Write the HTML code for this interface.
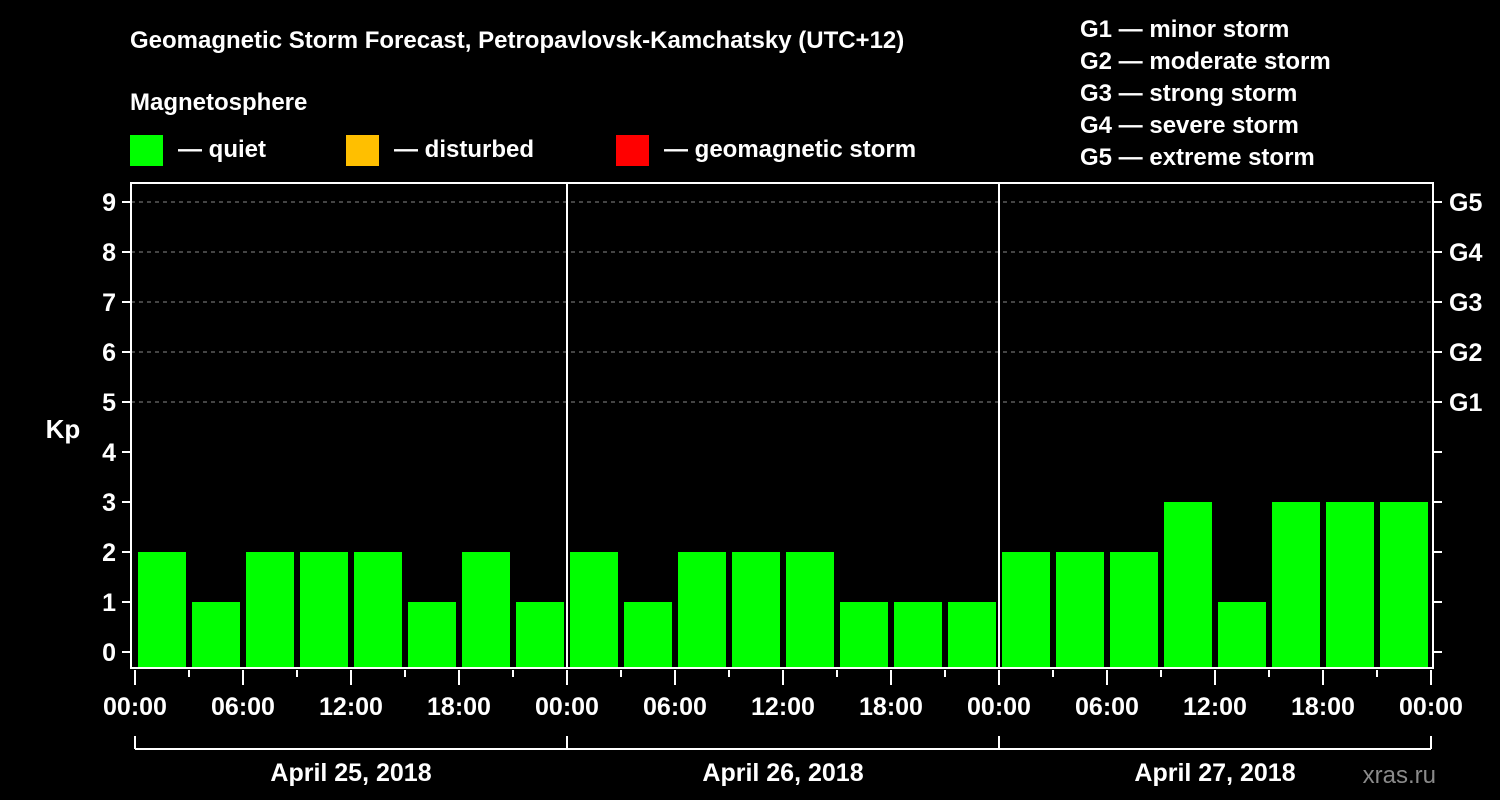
<!DOCTYPE html>
<html><head><meta charset="utf-8"><style>
body{margin:0;background:#000;width:1500px;height:800px;overflow:hidden}
svg{display:block}
text{font-family:"Liberation Sans",Arial,sans-serif;font-weight:bold;fill:#fff}
</style></head><body>
<svg id="c" width="1500" height="800">
<text x="130" y="48" font-size="24">Geomagnetic Storm Forecast, Petropavlovsk-Kamchatsky (UTC+12)</text>
<text x="130" y="110" font-size="24">Magnetosphere</text>
<g><rect x="130" y="135" width="33" height="31" fill="#00ff00"/><text x="178" y="157" font-size="24">— quiet</text></g>
<g><rect x="346" y="135" width="33" height="31" fill="#ffbf00"/><text x="394" y="157" font-size="24">— disturbed</text></g>
<g><rect x="616" y="135" width="33" height="31" fill="#ff0000"/><text x="664" y="157" font-size="24">— geomagnetic storm</text></g>
<g font-size="24">
<text x="1080" y="37">G1 — minor storm</text>
<text x="1080" y="69">G2 — moderate storm</text>
<text x="1080" y="101">G3 — strong storm</text>
<text x="1080" y="133">G4 — severe storm</text>
<text x="1080" y="165">G5 — extreme storm</text>
</g>
<text x="63" y="438" font-size="26" text-anchor="middle">Kp</text>
<text x="1436" y="783" font-size="24" text-anchor="end" fill="#888" style="fill:#8a8a8a;font-weight:normal">xras.ru</text>
<g id="g"></g>
</svg>
<script>
const days=["April 25, 2018","April 26, 2018","April 27, 2018"];
const kpValues=[2,1,2,2,2,1,2,1, 2,1,2,2,2,1,1,1, 2,2,2,3,1,3,3,3];
const yTicks=[0,1,2,3,4,5,6,7,8,9];
const gLabels=["G1","G2","G3","G4","G5"];
const hourLabels=["00:00","06:00","12:00","18:00"];
const NS="http://www.w3.org/2000/svg",g=document.getElementById("g");
const L=131,R=1433,T=183,B=668,X0=135,DAY=432;
const y=v=>652-v*50;
const x=slot=>X0+slot*DAY/8;
function el(t,a,p){const e=document.createElementNS(NS,t);for(const k in a)e.setAttribute(k,a[k]);(p||g).appendChild(e);return e;}
// grid
for(let v=5;v<=9;v++){const e=el("line",{x1:L,x2:R,y1:y(v),y2:y(v),stroke:"#888","stroke-dasharray":"4,4","stroke-width":1});

}
// bars
kpValues.forEach((v,i)=>{const c=v>=5?"#ff0000":v>=4?"#ffbf00":"#00ff00";
const r=el("rect",{x:x(i)+3,y:y(v),width:DAY/8-6,height:B-y(v),fill:c});

});
// day separators
for(let d=1;d<days.length;d++){const e=el("line",{x1:x(d*8),x2:x(d*8),y1:T,y2:B,stroke:"#fff","stroke-width":2});

}
// frame
const f=el("rect",{x:L,y:T,width:R-L,height:B-T,fill:"none",stroke:"#fff","stroke-width":2});


// y ticks
yTicks.forEach(v=>{el("line",{x1:122,x2:L,y1:y(v),y2:y(v),stroke:"#fff","stroke-width":2});
el("line",{x1:R,x2:1442,y1:y(v),y2:y(v),stroke:"#fff","stroke-width":2});
const t=el("text",{x:116,y:y(v)+9,"font-size":25,"text-anchor":"end"});t.textContent=v;

});
gLabels.forEach((s,i)=>{const t=el("text",{x:1449,y:y(i+5)+9,"font-size":25});t.textContent=s;

});
// x ticks
for(let s=0;s<=days.length*8;s++){const major=s%2==0;
el("line",{x1:x(s),x2:x(s),y1:B+2,y2:major?685:677,stroke:"#fff","stroke-width":2});
if(major){const t=el("text",{x:x(s),y:715,"font-size":25,"text-anchor":"middle"});t.textContent=hourLabels[(s/2)%4];

}}
// day brackets
el("line",{x1:x(0),x2:x(days.length*8),y1:749,y2:749,stroke:"#fff","stroke-width":2});
for(let d=0;d<=days.length;d++)el("line",{x1:x(d*8),x2:x(d*8),y1:736,y2:749,stroke:"#fff","stroke-width":2});
days.forEach((s,d)=>{const t=el("text",{x:x(d*8+4),y:781,"font-size":25,"text-anchor":"middle"});t.textContent=s;

});
</script>
</body></html>
